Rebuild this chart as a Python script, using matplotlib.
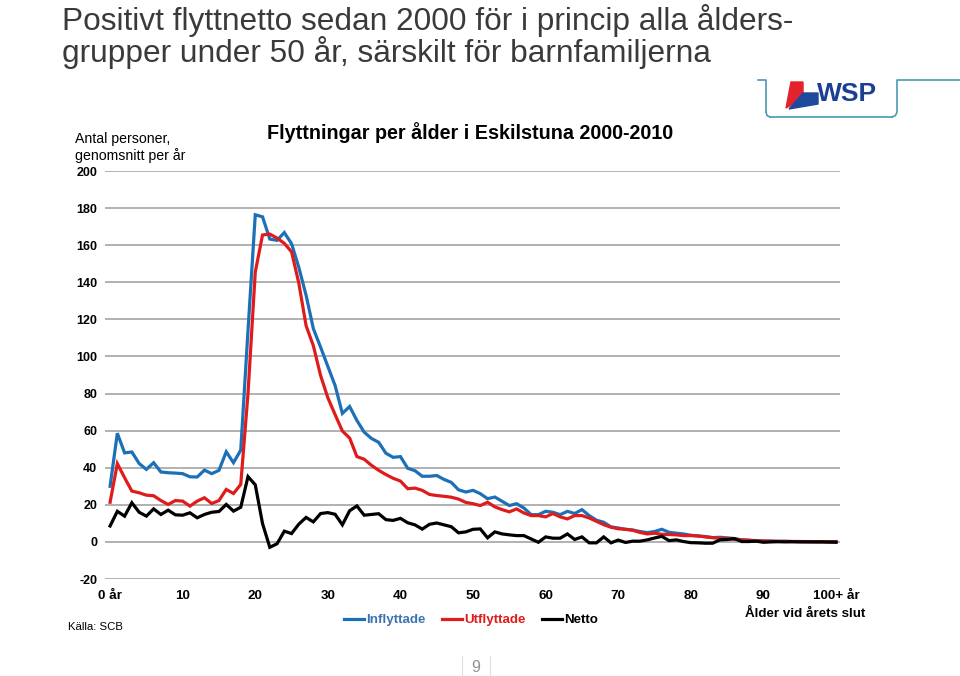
import numpy as np
import matplotlib
matplotlib.use("Agg")
import matplotlib.pyplot as plt
from matplotlib.lines import Line2D
from matplotlib.patches import Polygon

plt.rcParams["font.family"] = ["Liberation Sans", "DejaVu Sans"]

# ---- data: average number of movers per age, Eskilstuna 2000-2010 ----
ages = np.arange(0, 101)
inflyttade = [
    30, 58.6, 48, 48.5, 42.3, 39.1, 42.7, 37.7, 37.3, 37.1,
    36.8, 35.1, 35, 38.7, 36.8, 38.6, 48.6, 42.7, 49.5, 114,
    176.4, 175.3, 163.3, 162.6, 166.8, 160.8, 148, 133, 115, 105,
    94.6, 84.3, 69.3, 73, 65.5, 59.2, 55.8, 53.7, 47.8, 45.6,
    46, 39.7, 38.4, 35.4, 35.4, 35.8, 33.7, 32.1, 28.1, 26.9,
    27.8, 26, 23.3, 24.2, 21.9, 19.6, 20.6, 18.3, 14.7, 14.7,
    16.5, 16, 14.7, 16.5, 15.3, 17.4, 14.2, 11.7, 10.6, 8.1,
    7.5, 6.8, 6.4, 5.6, 5, 5.6, 6.8, 5.2, 4.7, 4.3,
    3.6, 3.2, 2.9, 2.3, 2.5, 2.2, 1.8, 1.1, 0.9, 0.7,
    0.5, 0.4, 0.3, 0.3, 0.2, 0.2, 0.1, 0.1, 0.1, 0.1, 0.1,
]
utflyttade = [
    21.4, 42.2, 34.6, 27.4, 26.5, 25.2, 24.9, 22.3, 20.2, 22.3,
    22, 19.3, 22, 23.8, 20.7, 22.3, 28.3, 26.1, 31, 80,
    145.5, 165.5, 166, 163.8, 161, 156.4, 139.5, 116.6, 105.8, 89.7,
    77.7, 68.6, 59.8, 56, 46, 44.6, 41.3, 38.6, 36.3, 34.3,
    32.8, 28.7, 29, 27.8, 25.6, 25, 24.6, 24.1, 23.1, 21.3,
    20.6, 19.6, 21.4, 18.9, 17.4, 16.2, 17.8, 15.6, 14.2, 14.2,
    13.5, 15.3, 13.5, 12.4, 14.2, 14.2, 12.9, 11.1, 9.3, 7.9,
    7.1, 6.8, 6.3, 5.1, 4.3, 4.7, 4.1, 4, 3.8, 3.4,
    3.4, 3.2, 2.7, 2.3, 2, 1.8, 1.4, 1.1, 0.9, 0.5,
    0.5, 0.4, 0.3, 0.3, 0.2, 0.2, 0.2, 0.1, 0.1, 0.1, 0.2,
]
netto = [
    8.6, 16.5, 13.9, 21.1, 16, 13.9, 17.8, 14.8, 17.1, 14.6,
    14.4, 15.7, 13, 14.8, 16, 16.4, 20.2, 16.6, 18.7, 35.2,
    30.8, 9.9, -2.9, -1, 5.8, 4.5, 9.6, 13.2, 10.8, 15.3,
    15.8, 14.9, 9.2, 16.8, 19.4, 14.4, 14.8, 15.2, 12, 11.6,
    12.7, 10.3, 9.2, 6.9, 9.5, 10.2, 9.2, 8.2, 4.9, 5.4,
    6.8, 7, 2.2, 5.4, 4.3, 3.8, 3.4, 3.4, 1.6, -0.2,
    2.7, 2, 2, 4.3, 1.3, 2.7, -0.5, -0.5, 2.7, -0.5,
    1.0, -0.3, 0.4, 0.4, 1.1, 2.1, 3.0, 0.7, 1.1, 0.2,
    -0.4, -0.5, -0.7, -0.7, 1.1, 1.3, 1.8, 0.2, 0.2, 0.4,
    -0.2, 0, 0.1, 0, 0.1, 0, 0, 0, 0, -0.1, -0.2,
]
yticks = list(range(-20, 201, 20))
xticks = list(range(0, 101, 10))
xtick_labels = ["0 år", "10", "20", "30", "40", "50", "60", "70", "80", "90", "100+ år"]

BLUE = "#1c70b8"
RED = "#e01b1b"
W, H = 960, 676


def fx(px):
    return px / W


def fy(py):
    return 1 - py / H


fig = plt.figure(figsize=(9.6, 6.76), dpi=100)
ax = fig.add_axes([fx(105), fy(579), fx(840) - fx(105), fy(171) - fy(579)])

ax.plot(ages, inflyttade, color=BLUE, lw=2.3, solid_joinstyle="miter", zorder=3)
ax.plot(ages, utflyttade, color=RED, lw=2.3, solid_joinstyle="miter", zorder=4)
ax.plot(ages, netto, color="black", lw=2.3, solid_joinstyle="miter", zorder=5)

ax.set_xlim(-0.7, 100.55)
ax.set_ylim(-20, 200)
ax.set_yticks(yticks)
ax.set_yticklabels([str(v) for v in yticks], fontsize=9, fontweight="bold")
ax.set_xticks(xticks)
ax.set_xticklabels(xtick_labels, fontsize=9.7, fontweight="bold")
ax.tick_params(axis="both", length=0)
ax.tick_params(axis="y", pad=5.5)
ax.tick_params(axis="x", pad=8)
ax.grid(axis="y", color="#ababab", lw=1.3)
ax.set_axisbelow(True)
for s in ax.spines.values():
    s.set_visible(False)

# ---- texts ----
fig.text(fx(62), fy(4), "Positivt flyttnetto sedan 2000 för i princip alla ålders-\ngrupper under 50 år, särskilt för barnfamiljerna",
         fontsize=22.8, color="#3a3a3a", va="top", linespacing=0.98)
fig.text(fx(75), fy(160), "Antal personer,\ngenomsnitt per år", fontsize=10.2, va="baseline", linespacing=1.2)
fig.text(fx(470), fy(133), "Flyttningar per ålder i Eskilstuna 2000-2010", fontsize=14.2,
         fontweight="bold", ha="center", va="center")
fig.text(fx(805), fy(614), "Ålder vid årets slut", fontsize=9.6, fontweight="bold", ha="center", va="center")
fig.text(fx(68), fy(627), "Källa: SCB", fontsize=8.2, va="center")
fig.text(fx(476), fy(668), "9", fontsize=11.5, color="#909090", ha="center", va="center")

# legend
handles = [Line2D([], [], color=BLUE, lw=2.3), Line2D([], [], color=RED, lw=2.3),
           Line2D([], [], color="black", lw=2.3)]
leg = fig.legend(handles, ["Inflyttade", "Utflyttade", "Netto"], loc="center",
                 bbox_to_anchor=(fx(471), fy(620)), ncol=3, frameon=False,
                 fontsize=9.6, handlelength=1.5, handletextpad=0.15, columnspacing=1.25)
for t, c in zip(leg.get_texts(), ["#3f73b0", RED, "black"]):
    t.set_color(c)
    t.set_fontweight("bold")

# WSP logo and frame
frame = "#4a9bb3"
fig.add_artist(Line2D([fx(758), fx(766), fx(766)], [fy(80), fy(80), fy(112)], color=frame, lw=1.2))
fig.add_artist(Line2D([fx(770), fx(892)], [fy(117), fy(117)], color=frame, lw=1.2))
fig.add_artist(Line2D([fx(766), fx(767), fx(770)], [fy(112), fy(115.5), fy(117)], color=frame, lw=1.2))
fig.add_artist(Line2D([fx(892), fx(895.5), fx(897), fx(897), fx(960)],
                      [fy(117), fy(115.5), fy(112), fy(80), fy(80)], color=frame, lw=1.2))
fig.add_artist(Polygon([[fx(791), fy(82)], [fx(803), fy(82)], [fx(803), fy(98)], [fx(786), fy(108)]],
                       closed=True, color="#e4222b"))
fig.add_artist(Polygon([[fx(803), fy(93)], [fx(818), fy(93)], [fx(818), fy(104)], [fx(789), fy(109)]],
                       closed=True, color="#1f4a9c"))
fig.text(fx(817), fy(94), "WSP", fontsize=19, fontweight="bold", color="#1a3f93", va="center")

fig.add_artist(Line2D([fx(462), fx(462)], [fy(656), fy(676)], color="#e0e0e0", lw=0.8))
fig.add_artist(Line2D([fx(490), fx(490)], [fy(656), fy(676)], color="#e0e0e0", lw=0.8))

fig.savefig("out.png", dpi=100)
